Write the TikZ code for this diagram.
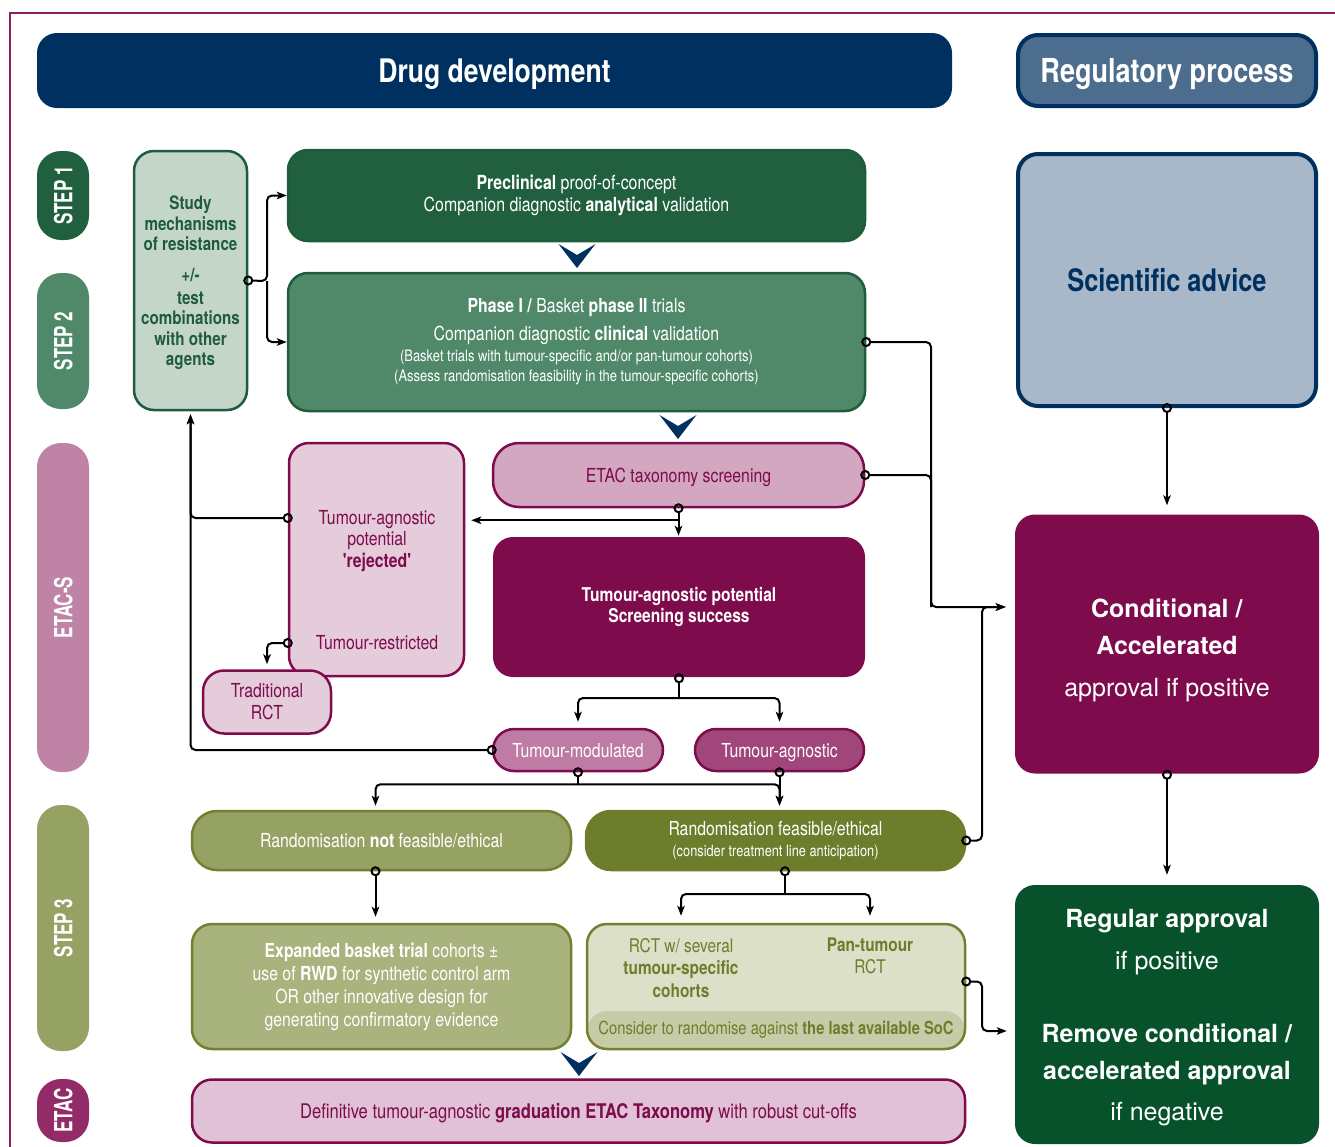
\documentclass[tikz,border=0pt]{standalone}
\usepackage{fontspec}
\usepackage{tikz}
\usetikzlibrary{arrows.meta}
\usetikzlibrary{calc}
\newfontfamily\cnd[FakeStretch=0.82]{TeX Gyre Heros}
\newfontfamily\tabf[FakeStretch=0.68]{TeX Gyre Heros}
\newfontfamily\wde{TeX Gyre Heros}

\definecolor{navy}{HTML}{00305F}
\definecolor{regblue}{HTML}{4D6D8F}
\definecolor{sciblue}{HTML}{A8B8C8}
\definecolor{stepone}{HTML}{21603F}
\definecolor{steptwo}{HTML}{4F896A}
\definecolor{darkgreen}{HTML}{1E5C3A}
\definecolor{studyfill}{HTML}{C3D6C9}
\definecolor{etacs}{HTML}{BF84A5}
\definecolor{etac}{HTML}{922B67}
\definecolor{maroon}{HTML}{7E0B4C}
\definecolor{taxofill}{HTML}{D4A7C1}
\definecolor{rejfill}{HTML}{E5CCDA}
\definecolor{modfill}{HTML}{BE7BA3}
\definecolor{agnfill}{HTML}{A0467B}
\definecolor{definfill}{HTML}{E0C1D5}
\definecolor{stepthree}{HTML}{96A263}
\definecolor{olive}{HTML}{6C7E2C}
\definecolor{oliveline}{HTML}{71812F}
\definecolor{expfill}{HTML}{A8B37D}
\definecolor{rctfill}{HTML}{DCE0C9}
\definecolor{rctstrip}{HTML}{C7CCA8}
\definecolor{regapp}{HTML}{07522B}
\definecolor{frameline}{HTML}{8E1F5F}

\tikzset{
  box/.style={rounded corners=20pt, inner sep=0pt, align=center, line width=2.5pt,
    font=\cnd\fontsize{19.3}{21}\selectfont},
  pill/.style={box, rounded corners=21pt},
  tab/.style={rounded corners=24pt, minimum height=52pt, inner sep=0pt, rotate=90,
    fill=#1, text=white, text depth=0pt, font=\tabf\bfseries\fontsize{25}{26}\selectfont},
  lbl/.style={inner sep=0pt, align=center, font=\cnd\fontsize{19.3}{21}\selectfont},
  conn/.style={line width=2pt, rounded corners=5pt},
  circ/.style={conn, {Circle[open,length=10pt]}-, shorten <=-5pt},
  arr/.style={conn, -{Stealth[length=10pt,width=7.5pt,inset=2.5pt]}},
  circarr/.style={conn, {Circle[open,length=10pt]}-{Stealth[length=10pt,width=7.5pt,inset=2.5pt]},
    shorten <=-5pt},
  chevron/.pic={\fill[navy] (-18.5,0) -- (0,11) -- (18.5,0) -- (0,24) -- cycle;}
}

\begin{document}
\begin{tikzpicture}[x=1pt,y=-1pt]
\useasboundingbox (0,0) rectangle (1335,1146);
\draw[frameline, line width=2pt] (10,1160) -- (10,13) -- (1345,13);

% headers
\node[box, fill=navy, minimum width=915pt, minimum height=75pt, text=white, text depth=0pt,
  font=\cnd\bfseries\fontsize{32.4}{36}\selectfont] (drug) at (494.5,70.5) {Drug development};
\node[box, fill=regblue, draw=navy, line width=4pt, minimum width=298pt, minimum height=71pt, text=white,
  text depth=0pt, font=\cnd\bfseries\fontsize{33}{36}\selectfont] (reg) at (1167,70.5) {Regulatory process};

% side tabs
\node[tab=stepone, minimum width=89pt] (tabone) at (63,195.5) {STEP 1};
\node[tab=steptwo, minimum width=136pt] (tabtwo) at (63,341) {STEP 2};
\node[tab=etacs, minimum width=329pt] (tabs) at (63,607.5) {ETAC-S};
\node[tab=stepthree, minimum width=246pt] (tabthree) at (63,928) {STEP 3};
\node[tab=etac, minimum width=63pt] (tabetac) at (63,1110.5) {ETAC};

% step 1 and 2
\node[box, fill=studyfill, draw=darkgreen, minimum width=113pt, minimum height=259pt] (study) at (190.5,280.5) {};
\node[lbl, text=darkgreen, font=\cnd\bfseries\fontsize{18.5}{20.5}\selectfont] (studytxt) at (190.5,283)
  {Study\\mechanisms\\of resistance\\[10pt]+/-\\[2.5pt]test\\combinations\\with other\\agents};
\node[box, fill=stepone, draw=darkgreen, minimum width=577pt, minimum height=91pt, text=white,
  font=\cnd\fontsize{19.4}{22}\selectfont] (precl) at (576.5,195.5)
  {\textbf{Preclinical} proof-of-concept\\Companion diagnostic \textbf{analytical} validation};
\node[box, fill=steptwo, draw=darkgreen, minimum width=577pt, minimum height=138pt, text=white] (phase) at (576.5,342)
  {\textbf{Phase I /} Basket \textbf{phase II} trials\\[7pt]
   Companion diagnostic \textbf{clinical} validation\\
   {\fontsize{15.8}{20}\selectfont (Basket trials with tumour-specific and/or pan-tumour cohorts)}\\[-1pt]
   {\fontsize{15.8}{20}\selectfont (Assess randomisation feasibility in the tumour-specific cohorts)}};

% ETAC-S
\node[box, rounded corners=26pt, fill=taxofill, draw=maroon, minimum width=371pt, minimum height=64pt,
  text=maroon, text depth=0pt] (taxo) at (678.5,475) {ETAC taxonomy screening};
\node[box, fill=rejfill, draw=maroon, minimum width=175pt, minimum height=233pt] (rej) at (376.5,559.5) {};
\node[lbl, text=maroon, font=\cnd\fontsize{19.3}{21.5}\selectfont] (rejtxt) at (377,541)
  {Tumour-agnostic\\potential\\\textbf{'rejected'}};
\node[lbl, text=maroon] (restr) at (377,643) {Tumour-restricted};
\node[pill, fill=rejfill, draw=maroon, minimum width=128pt, minimum height=63pt, text=maroon,
  font=\cnd\fontsize{19.3}{22}\selectfont] (trad) at (267,702) {Traditional\\RCT};
\node[box, fill=maroon, minimum width=372pt, minimum height=140pt, text=white,
  font=\cnd\bfseries\fontsize{19}{21}\selectfont] (succ) at (679,607)
  {Tumour-agnostic potential\\Screening success};
\node[pill, fill=modfill, draw=maroon, minimum width=170pt, minimum height=42pt, text=white,
  text depth=0pt] (modu) at (578,750) {Tumour-modulated};
\node[pill, fill=agnfill, draw=maroon, minimum width=169pt, minimum height=42pt, text=white,
  text depth=0pt] (agn) at (779.5,750) {Tumour-agnostic};

% step 3
\node[box, rounded corners=25pt, fill=stepthree, draw=oliveline, minimum width=379pt, minimum height=59pt,
  text=white, text depth=0pt] (notf) at (381.5,840.5) {Randomisation \textbf{not} feasible/ethical};
\node[box, rounded corners=25pt, fill=olive, draw=olive, minimum width=379pt, minimum height=59pt,
  text=white] (feas) at (775.5,840.5)
  {Randomisation feasible/ethical\\{\fontsize{15.6}{20}\selectfont (consider treatment line anticipation)}};
\node[box, fill=expfill, draw=oliveline, minimum width=379pt, minimum height=125pt, text=white,
  font=\cnd\fontsize{19.3}{23}\selectfont] (expd) at (381.5,986.5)
  {\textbf{Expanded basket trial} cohorts ±\\use of \textbf{RWD} for synthetic control arm\\
   OR other innovative design for\\generating confirmatory evidence};
\node[box, fill=rctfill, draw=oliveline, minimum width=378pt, minimum height=125pt,
  path picture={\fill[rctstrip] ([yshift=38pt]path picture bounding box.south west)
    rectangle (path picture bounding box.south east);}] (rct) at (776,986.5) {};
\node[lbl, text=olive, font=\cnd\fontsize{18.8}{22.5}\selectfont] (rcta) at (681,968)
  {RCT w/ several\\\textbf{tumour-specific}\\\textbf{cohorts}};
\node[lbl, text=olive, font=\cnd\fontsize{18.8}{22}\selectfont] (rctb) at (870,956) {\textbf{Pan-tumour}\\RCT};
\node[lbl, text=olive, font=\cnd\fontsize{18}{20}\selectfont] (rctc) at (776,1030)
  {Consider to randomise against \textbf{the last available SoC}};

% ETAC
\node[box, fill=definfill, draw=maroon, minimum width=773pt, minimum height=63pt, text=maroon,
  text depth=0pt, font=\cnd\fontsize{20.2}{22}\selectfont] (defin) at (578.5,1111)
  {Definitive tumour-agnostic \textbf{graduation ETAC Taxonomy} with robust cut-offs};

% regulatory column
\node[box, fill=sciblue, draw=navy, line width=4pt, minimum width=298pt, minimum height=252pt, text=navy,
  font=\cnd\bfseries\fontsize{31}{34}\selectfont] (sci) at (1167,280) {Scientific advice};
\node[box, fill=maroon, minimum width=304pt, minimum height=259pt] (cond) at (1167,644) {};
\node[lbl, text=white, font=\wde\fontsize{25}{37}\selectfont] (condtxt) at (1167,650)
  {\textbf{Conditional /}\\\textbf{Accelerated}\\[5pt]approval if positive};
\node[box, fill=regapp, minimum width=304pt, minimum height=259pt] (regap) at (1167,1014.5) {};
\node[lbl, text=white, font=\wde\fontsize{25}{39}\selectfont] (regtxt) at (1167,1017.5)
  {\textbf{Regular approval}\\[3pt]if positive\\[34pt]\textbf{Remove conditional /}\\[-2pt]
   \textbf{accelerated approval}\\[2pt]if negative};

% chevrons
\pic at (577,244) {chevron};
\pic at (678,415) {chevron};
\pic at (579,1052) {chevron};

% connectors
\coordinate (splitA) at (267,281);
\coordinate (bendA) at (931,607);
\coordinate (bendB) at (982,607);
\coordinate (bendC) at (982,1031);
\coordinate (splitB) at ($(taxo.south)+(0,12)$);
\coordinate (splitC) at (679,698);
\coordinate (splitD) at ($(modu.south)+(0,12)$);
\coordinate (splitE) at (785,894);

\draw[circarr] (study.east) -- (splitA) |- (precl.west);
\draw[arr] (splitA) |- (phase.west);

\draw[circ] (taxo.east) -| (bendA);
\draw[circarr, shorten >=8pt] (phase.east) -| (bendA) -- (bendA -| cond.west);
\draw[circarr, shorten >=8pt] (feas.east) -| (bendB) -- (bendA -| cond.west);

\draw[circarr] (taxo.south) -- (taxo.south |- succ.north);
\draw[arr, shorten >=6pt] (splitB) -- (splitB -| rej.east);

\draw[circarr, shorten >=3pt] ($(rej.west)+(0,-41.5)$) -| (study.south);
\draw[circarr, shorten >=3pt] (modu.west) -| (study.south);
\draw[circarr, shorten >=5pt] (rej.west |- restr) -| (trad.north);

\draw[circ] (succ.south) -- (splitC);
\draw[arr, shorten >=6pt] (splitC) -| (modu.north);
\draw[arr, shorten >=6pt] (splitC) -| (agn.north);

\draw[circ] (modu.south) -- (splitD);
\draw[arr, shorten >=4pt] (splitD) -| ($(notf.north)+(-6,0)$);
\draw[arr, shorten >=4pt] (splitD) -| (agn.south |- feas.north);
\draw[circarr, shorten >=4pt] (agn.south) -- (agn.south |- feas.north);

\draw[circarr, shorten >=6pt] ($(notf.south)+(-6,0)$) -- ($(expd.north)+(-6,0)$);
\draw[circ] (splitE |- feas.south) -- (splitE);
\draw[arr, shorten >=7pt] (splitE) -| (rcta.north |- rct.north);
\draw[arr, shorten >=7pt] (splitE) -| (rctb.north |- rct.north);
\draw[circarr, shorten >=7pt] ($(rct.east)+(0,-5)$) -| (bendC) -- (bendC -| regap.west);

\draw[circarr, shorten >=8pt] (sci.south) -- (cond.north);
\draw[circarr, shorten >=9pt] (cond.south) -- (regap.north);
\end{tikzpicture}
\end{document}
